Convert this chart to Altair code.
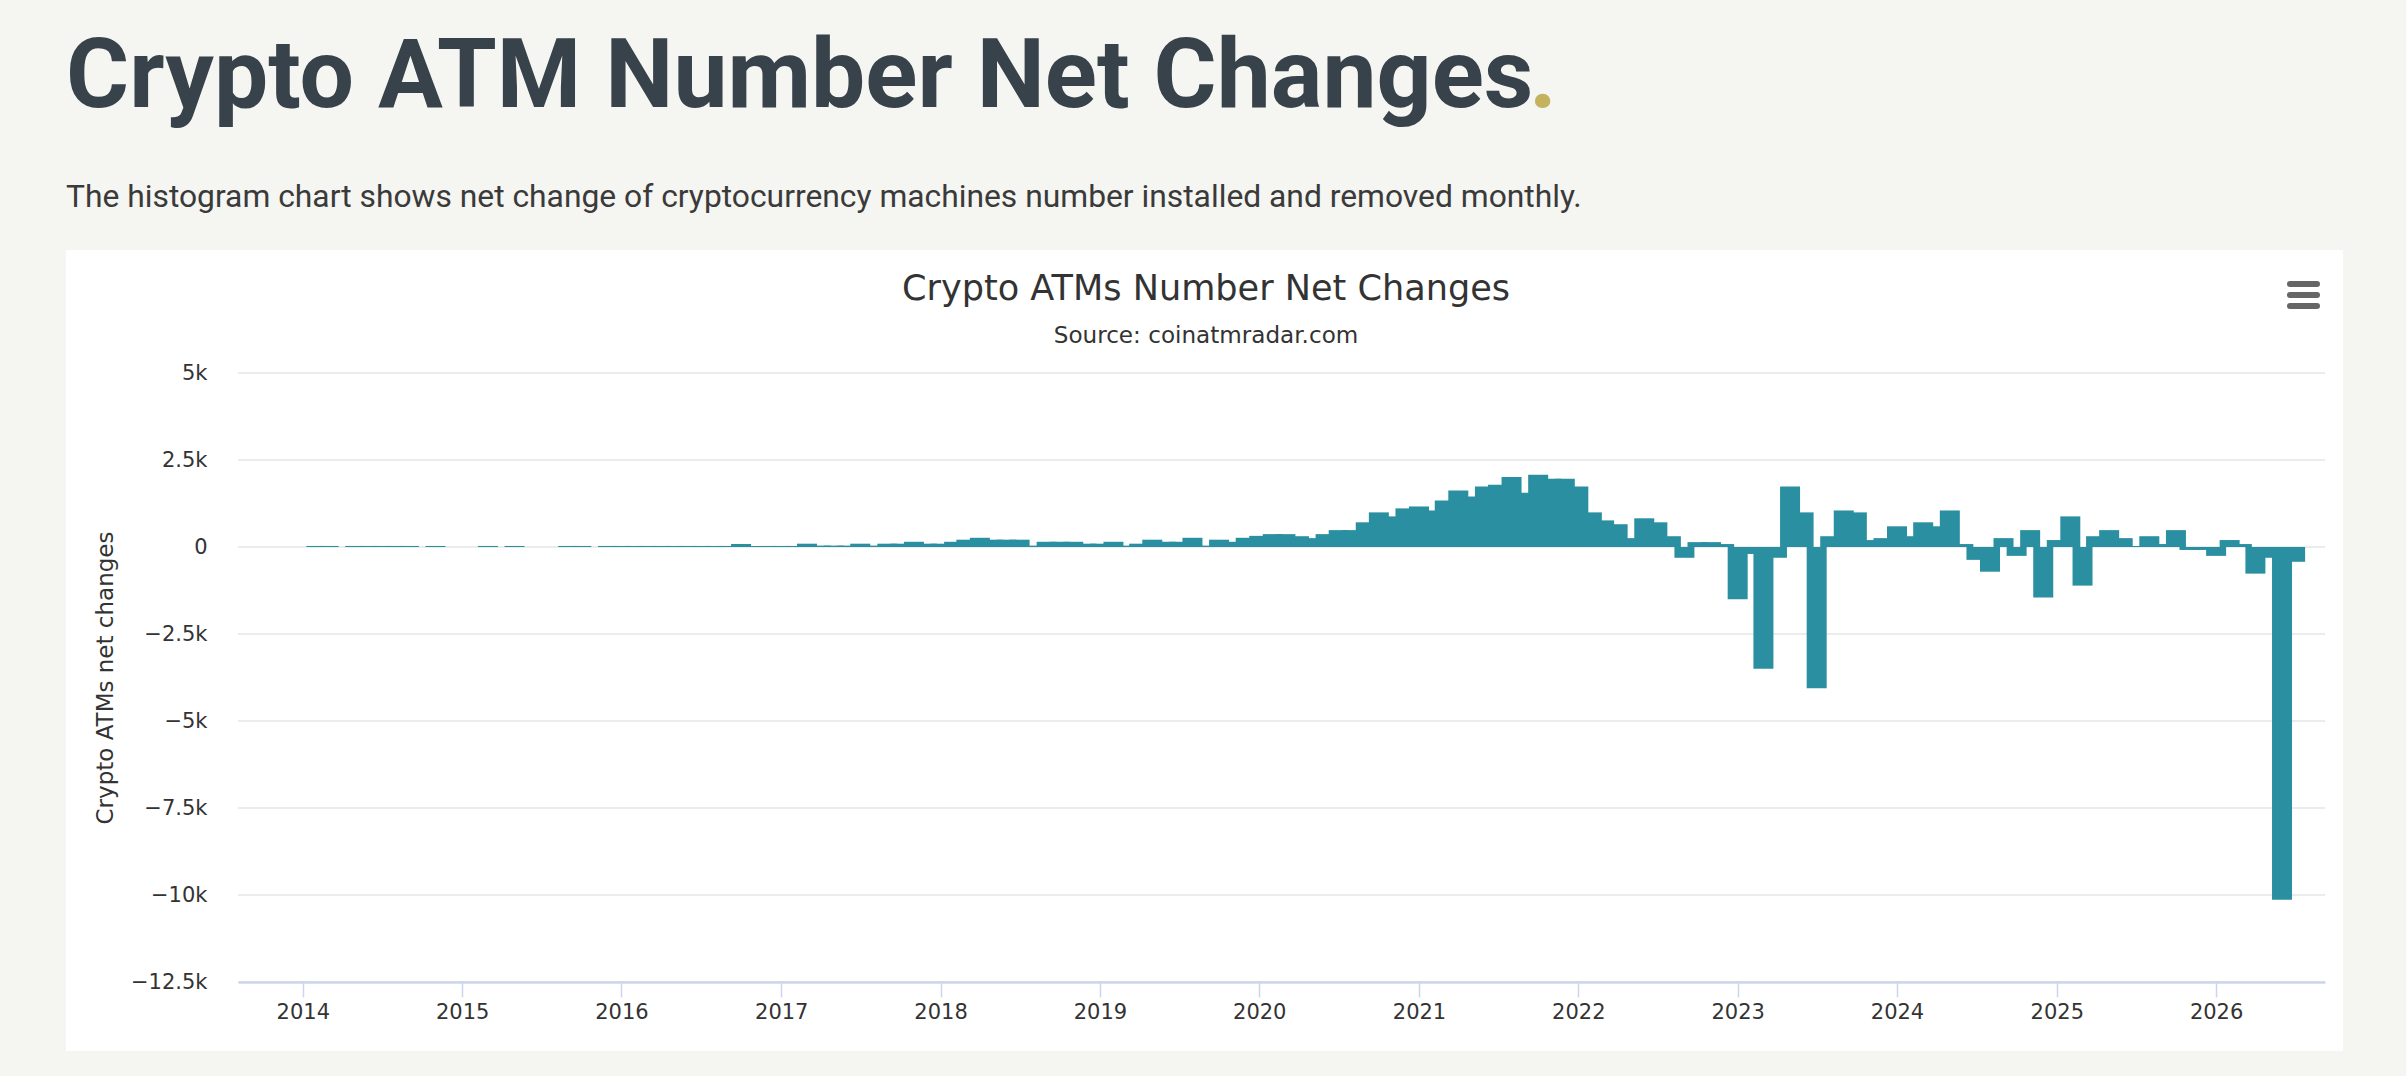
import altair as alt
import pandas as pd

# Net monthly change in the number of crypto ATMs (installed minus removed), Jan..Dec
net_2014 = [0, 30, 30, 0, 30, 30, 30, 30, 30, 0, 30, 0]
net_2015 = [0, 0, 30, 0, 30, 0, 0, 0, 30, 30, 0, 30]
net_2016 = [30, 30, 30, 30, 30, 30, 30, 30, 30, 85, 30, 30]
net_2017 = [30, 30, 95, 40, 40, 40, 95, 40, 95, 95, 150, 95]
net_2018 = [95, 150, 210, 265, 210, 210, 210, 40, 150, 150, 150, 95]
net_2019 = [95, 150, 40, 95, 210, 150, 150, 265, 40, 210, 150, 265]
net_2020 = [320, 370, 370, 310, 255, 370, 485, 485, 710, 995, 880, 1110]
net_2021 = [1165, 1050, 1335, 1620, 1450, 1735, 1790, 2015, 1560, 2075, 1960, 1960]
net_2022 = [1735, 995, 765, 655, 255, 825, 710, 310, -310, 140, 140, 85]
net_2023 = [-1505, -200, -3495, -310, 1735, 995, -4060, 310, 1050, 995, 200, 255]
net_2024 = [595, 310, 710, 595, 1050, 85, -370, -710, 255, -255, 485, -1450]
net_2025 = [200, 880, -1110, 310, 485, 255, 30, 310, 85, 485, -85, -85]
net_2026 = [-255, 200, 85, -765, -310, -10140, -425]

yearly = {
    2014: net_2014, 2015: net_2015, 2016: net_2016, 2017: net_2017,
    2018: net_2018, 2019: net_2019, 2020: net_2020, 2021: net_2021,
    2022: net_2022, 2023: net_2023, 2024: net_2024, 2025: net_2025,
    2026: net_2026,
}

y_ticks = [5000, 2500, 0, -2500, -5000, -7500, -10000, -12500]
x_years = list(range(2014, 2027))

HEADING = "Crypto ATM Number Net Changes"
INTRO = ("The histogram chart shows net change of cryptocurrency machines "
         "number installed and removed monthly.")
CHART_TITLE = "Crypto ATMs Number Net Changes"
CHART_SOURCE = "Source: coinatmradar.com"
Y_TITLE = "Crypto ATMs net changes"

rows = []
for year, values in yearly.items():
    for month, value in enumerate(values, start=1):
        if value != 0:
            rows.append({"month": f"{year}-{month:02d}-01", "net": value})
monthly = pd.DataFrame(rows)
grid = pd.DataFrame({"net": y_ticks})

PAGE_BG = "#f5f5f1"
TEAL = "#2a90a1"
INK = "#37424a"
AXIS_FONT = "DejaVu Sans"
W, H = 2087, 609

one = alt.Data(values=[{"k": 0}])

y_scale = alt.Scale(domain=[-12500, 5000], nice=False, zero=False)

# white card behind the chart
card = alt.Chart(one).mark_rect(color="white").encode(
    x=alt.value(-172), x2=alt.value(2105), y=alt.value(-123), y2=alt.value(678)
)

x_axis = alt.Axis(
    values=[alt.DateTime(year=y, month=1, date=1, utc=True) for y in x_years],
    format="%Y", formatType="utc", title=None,
    labelFont=AXIS_FONT, labelFontSize=21, labelColor="#333333", labelPadding=4,
    labelFlush=False, labelOverlap=False,
    tickColor="#ccd6eb", tickSize=15, tickWidth=1.5,
    domainColor="#ccd6eb", domainWidth=2.5, grid=False, zindex=1,
)
y_axis = alt.Axis(
    values=y_ticks, title=Y_TITLE,
    labelExpr="datum.value == 0 ? '0' : format(datum.value / 1000, '~g') + 'k'",
    labelFont=AXIS_FONT, labelFontSize=21, labelColor="#333333", labelPadding=31,
    domain=False, ticks=False, grid=False, zindex=1,
    titleFont=AXIS_FONT, titleFontSize=23, titleFontWeight="normal",
    titleColor="#333333", titlePadding=13,
)

# horizontal grid lines, drawn on the card and under the bars
gridlines = alt.Chart(grid).mark_rule(color="#e6e6e6", strokeWidth=1.5).encode(
    y=alt.Y("net:Q", axis=y_axis, scale=y_scale)
)

bars = alt.Chart(monthly).mark_bar(size=20, color=TEAL).encode(
    x=alt.X("month:T", axis=x_axis, scale=alt.Scale(
        type="utc",
        domain=[alt.DateTime(year=2013, month=8, date=17, utc=True),
                alt.DateTime(year=2026, month=8, date=27, utc=True)])),
    y=alt.Y("net:Q", axis=y_axis, stack=None, scale=y_scale),
)

def text_layer(content, x, y, **style):
    return alt.Chart(one).mark_text(text=content, **style).encode(
        x=alt.value(x), y=alt.value(y)
    )

heading = text_layer(HEADING, -172, -266, align="left", baseline="alphabetic",
                     font="Roboto", fontWeight="bold", fontSize=96.5, color=INK)
heading_dot = text_layer(".", 1291, -266, align="left", baseline="alphabetic",
                         font="Roboto", fontWeight="bold", fontSize=96.5, color="#c4b25e")
intro = text_layer(INTRO, -172, -166, align="left", baseline="alphabetic",
                   font="Roboto", fontSize=31.8, color="#3a3a3a")
title = text_layer(CHART_TITLE, 968, -73, align="center", baseline="alphabetic",
                   font=AXIS_FONT, fontSize=35.1, color="#333333")
source = text_layer(CHART_SOURCE, 968, -30, align="center", baseline="alphabetic",
                    font=AXIS_FONT, fontSize=23.1, color="#333333")

# menu button: three rounded bars
menu = [
    alt.Chart(one).mark_rule(color="#666666", strokeWidth=6, strokeCap="round").encode(
        x=alt.value(2052), x2=alt.value(2079), y=alt.value(yy)
    )
    for yy in (-89, -78, -67)
]

chart = alt.layer(
    card, gridlines, bars, heading, heading_dot, intro, title, source, *menu
).properties(
    width=W, height=H,
    padding={"left": 238, "top": 373, "right": 2406 - 238 - W, "bottom": 1076 - 373 - H},
    autosize=alt.AutoSizeParams(type="none"),
    background=PAGE_BG,
).configure_view(stroke=None)

chart.save("out.html", embed_options={"renderer": "svg", "actions": False})
